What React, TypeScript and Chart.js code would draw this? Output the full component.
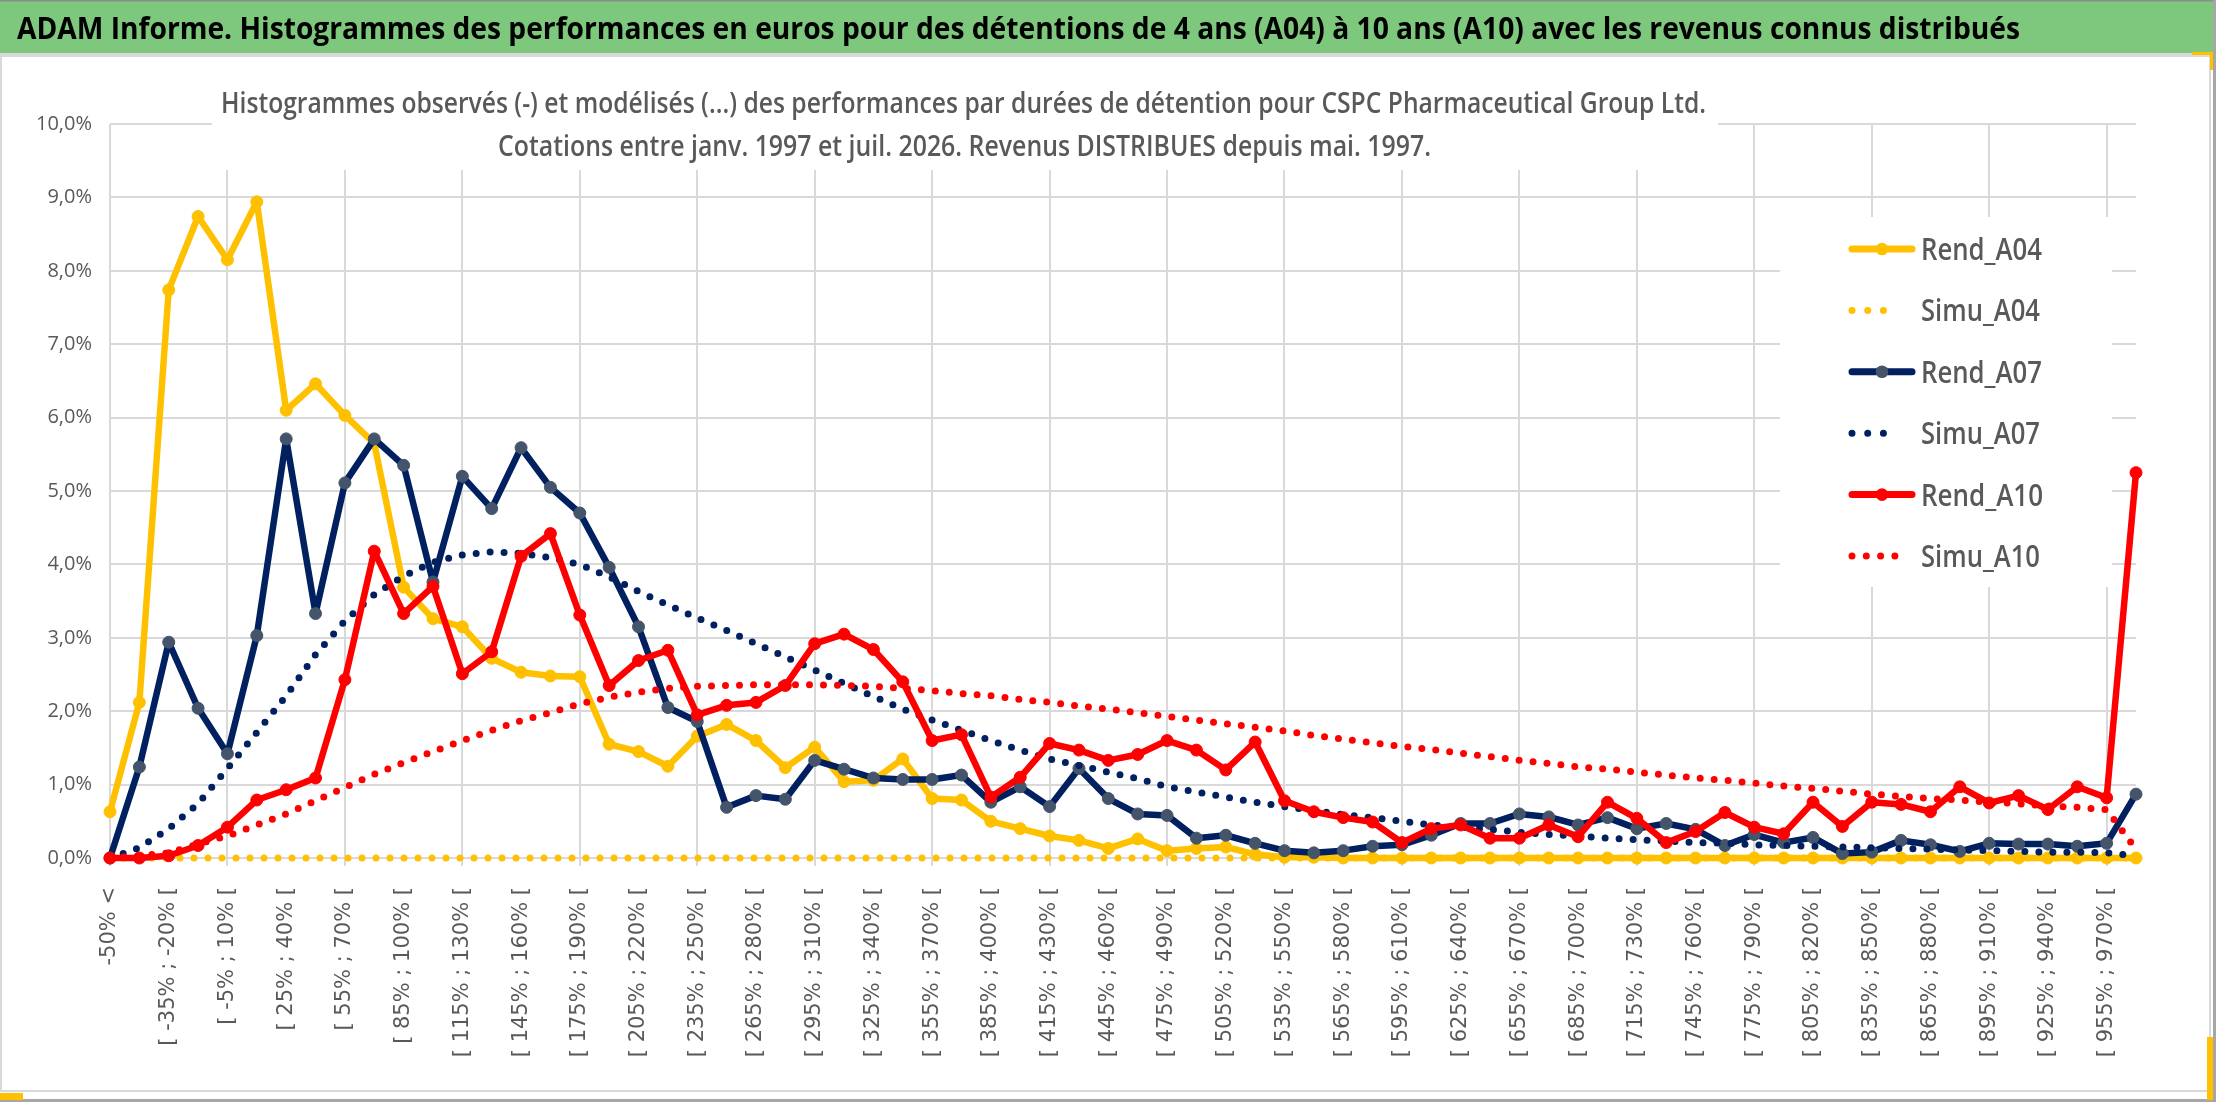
import { useEffect, useRef } from "react"
import { Chart, registerables } from "chart.js"

Chart.register(...registerables)

const categories = [
  "-50% <", "[ -50% ; -35% [", "[ -35% ; -20% [", "[ -20% ; -5% [", "[ -5% ; 10% [",
  "[ 10% ; 25% [", "[ 25% ; 40% [", "[ 40% ; 55% [", "[ 55% ; 70% [", "[ 70% ; 85% [",
  "[ 85% ; 100% [", "[ 100% ; 115% [", "[ 115% ; 130% [", "[ 130% ; 145% [", "[ 145% ; 160% [",
  "[ 160% ; 175% [", "[ 175% ; 190% [", "[ 190% ; 205% [", "[ 205% ; 220% [", "[ 220% ; 235% [",
  "[ 235% ; 250% [", "[ 250% ; 265% [", "[ 265% ; 280% [", "[ 280% ; 295% [", "[ 295% ; 310% [",
  "[ 310% ; 325% [", "[ 325% ; 340% [", "[ 340% ; 355% [", "[ 355% ; 370% [", "[ 370% ; 385% [",
  "[ 385% ; 400% [", "[ 400% ; 415% [", "[ 415% ; 430% [", "[ 430% ; 445% [", "[ 445% ; 460% [",
  "[ 460% ; 475% [", "[ 475% ; 490% [", "[ 490% ; 505% [", "[ 505% ; 520% [", "[ 520% ; 535% [",
  "[ 535% ; 550% [", "[ 550% ; 565% [", "[ 565% ; 580% [", "[ 580% ; 595% [", "[ 595% ; 610% [",
  "[ 610% ; 625% [", "[ 625% ; 640% [", "[ 640% ; 655% [", "[ 655% ; 670% [", "[ 670% ; 685% [",
  "[ 685% ; 700% [", "[ 700% ; 715% [", "[ 715% ; 730% [", "[ 730% ; 745% [", "[ 745% ; 760% [",
  "[ 760% ; 775% [", "[ 775% ; 790% [", "[ 790% ; 805% [", "[ 805% ; 820% [", "[ 820% ; 835% [",
  "[ 835% ; 850% [", "[ 850% ; 865% [", "[ 865% ; 880% [", "[ 880% ; 895% [", "[ 895% ; 910% [",
  "[ 910% ; 925% [", "[ 925% ; 940% [", "[ 940% ; 955% [", "[ 955% ; 970% [", "970% >",
]

// values in %
const rendA04 = [
  0.63, 2.12, 7.74, 8.74, 8.15, 8.94, 6.1, 6.46, 6.03, 5.65,
  3.69, 3.26, 3.15, 2.72, 2.53, 2.48, 2.47, 1.55, 1.45, 1.25,
  1.66, 1.82, 1.6, 1.23, 1.51, 1.04, 1.06, 1.35, 0.81, 0.79,
  0.5, 0.4, 0.3, 0.24, 0.13, 0.26, 0.1, 0.13, 0.15, 0.05,
  0.01, 0.01, 0, 0, 0, 0, 0, 0, 0, 0,
  0, 0, 0, 0, 0, 0, 0, 0, 0, 0,
  0, 0, 0, 0, 0, 0, 0, 0, 0, 0,
]
const simuA04 = [
  0, 0, 0, 0, 0, 0, 0, 0, 0, 0,
  0, 0, 0, 0, 0, 0, 0, 0, 0, 0,
  0, 0, 0, 0, 0, 0, 0, 0, 0, 0,
  0, 0, 0, 0, 0, 0, 0, 0, 0, 0,
  0, 0, 0, 0, 0, 0, 0, 0, 0, 0,
  0, 0, 0, 0, 0, 0, 0, 0, 0, 0,
  0, 0, 0, 0, 0, 0, 0, 0, 0, 0,
]
const rendA07 = [
  0, 1.24, 2.94, 2.04, 1.42, 3.03, 5.71, 3.33, 5.11, 5.71,
  5.35, 3.76, 5.2, 4.76, 5.59, 5.05, 4.7, 3.96, 3.15, 2.05,
  1.86, 0.69, 0.85, 0.8, 1.33, 1.21, 1.09, 1.07, 1.07, 1.13,
  0.76, 0.97, 0.7, 1.22, 0.81, 0.6, 0.58, 0.27, 0.31, 0.2,
  0.1, 0.07, 0.1, 0.16, 0.18, 0.31, 0.47, 0.47, 0.6, 0.56,
  0.45, 0.55, 0.4, 0.47, 0.39, 0.17, 0.32, 0.21, 0.28, 0.06,
  0.08, 0.24, 0.18, 0.09, 0.2, 0.19, 0.19, 0.16, 0.2, 0.87,
]
const simuA07 = [
  0, 0.14, 0.4, 0.74, 1.22, 1.71, 2.21, 2.77, 3.23, 3.59,
  3.84, 4.03, 4.13, 4.17, 4.15, 4.09, 4.0, 3.83, 3.63, 3.45,
  3.27, 3.1, 2.92, 2.74, 2.56, 2.38, 2.2, 2.03, 1.88, 1.74,
  1.6, 1.47, 1.35, 1.26, 1.17, 1.08, 0.97, 0.9, 0.83, 0.76,
  0.7, 0.65, 0.59, 0.55, 0.5, 0.45, 0.42, 0.39, 0.35, 0.32,
  0.3, 0.27, 0.25, 0.23, 0.21, 0.2, 0.18, 0.17, 0.16, 0.15,
  0.14, 0.13, 0.12, 0.11, 0.1, 0.09, 0.08, 0.08, 0.07, 0.03,
]
const rendA10 = [
  0, 0, 0.03, 0.17, 0.42, 0.79, 0.93, 1.09, 2.43, 4.18,
  3.33, 3.7, 2.51, 2.81, 4.11, 4.42, 3.31, 2.35, 2.69, 2.83,
  1.95, 2.08, 2.12, 2.35, 2.92, 3.05, 2.84, 2.4, 1.6, 1.68,
  0.83, 1.1, 1.56, 1.47, 1.33, 1.41, 1.6, 1.47, 1.2, 1.58,
  0.78, 0.63, 0.55, 0.49, 0.21, 0.4, 0.45, 0.27, 0.27, 0.45,
  0.29, 0.76, 0.54, 0.21, 0.36, 0.62, 0.42, 0.33, 0.76, 0.43,
  0.76, 0.73, 0.63, 0.97, 0.75, 0.85, 0.66, 0.97, 0.82, 5.25,
]
const simuA10 = [
  0, 0.03, 0.07, 0.19, 0.3, 0.45, 0.6, 0.78, 0.96, 1.14,
  1.3, 1.45, 1.6, 1.74, 1.87, 1.98, 2.1, 2.19, 2.26, 2.31,
  2.34, 2.35, 2.36, 2.36, 2.36, 2.35, 2.34, 2.31, 2.28, 2.24,
  2.21, 2.16, 2.12, 2.07, 2.03, 1.98, 1.93, 1.88, 1.83, 1.78,
  1.73, 1.67, 1.62, 1.57, 1.52, 1.48, 1.43, 1.38, 1.33, 1.29,
  1.24, 1.21, 1.17, 1.13, 1.09, 1.06, 1.02, 0.98, 0.95, 0.91,
  0.87, 0.84, 0.81, 0.79, 0.76, 0.74, 0.71, 0.69, 0.66, 0.12,
]

const yTickLabels = ["0,0%", "1,0%", "2,0%", "3,0%", "4,0%", "5,0%", "6,0%", "7,0%", "8,0%", "9,0%", "10,0%"]

const YELLOW = "#FFC000"
const NAVY = "#002060"
const NAVY_MARK = "#44546A"
const RED = "#FF0000"
const GRID = "#D9D9D9"
const TEXT = "#595959"

const legendItems = [
  { label: "Rend_A04", color: YELLOW, mark: YELLOW, dotted: false, len: 121 },
  { label: "Simu_A04", color: YELLOW, mark: YELLOW, dotted: true, len: 119 },
  { label: "Rend_A07", color: NAVY, mark: NAVY_MARK, dotted: false, len: 121 },
  { label: "Simu_A07", color: NAVY, mark: NAVY, dotted: true, len: 119 },
  { label: "Rend_A10", color: RED, mark: RED, dotted: false, len: 122 },
  { label: "Simu_A10", color: RED, mark: RED, dotted: true, len: 119 },
]

function solid(label: string, data: number[], color: string, mark: string, order: number) {
  return {
    label,
    data,
    borderColor: color,
    backgroundColor: mark,
    borderWidth: 6.5,
    borderJoinStyle: "round" as const,
    borderCapStyle: "round" as const,
    pointRadius: 6,
    pointBackgroundColor: mark,
    pointBorderColor: mark,
    pointBorderWidth: 1,
    tension: 0,
    clip: false as const,
    order,
  }
}

function dotted(label: string, data: number[], color: string, order: number) {
  return {
    label,
    data,
    borderColor: color,
    backgroundColor: color,
    borderWidth: 7,
    borderDash: [0, 14],
    borderCapStyle: "round" as const,
    borderJoinStyle: "round" as const,
    pointRadius: 0,
    tension: 0,
    clip: false as const,
    order,
  }
}

export default function App() {
  const chartRef = useRef<HTMLCanvasElement>(null)
  const chartInstance = useRef<Chart | null>(null)

  useEffect(() => {
    if (!chartRef.current) return
    const ctx = chartRef.current.getContext("2d")
    if (!ctx) return
    if (chartInstance.current) chartInstance.current.destroy()

    chartInstance.current = new Chart(ctx, {
      type: "line",
      data: {
        labels: categories,
        datasets: [
          solid("Rend_A04", rendA04, YELLOW, YELLOW, 5),
          dotted("Simu_A04", simuA04, YELLOW, 4),
          solid("Rend_A07", rendA07, NAVY, NAVY_MARK, 3),
          dotted("Simu_A07", simuA07, NAVY, 2),
          solid("Rend_A10", rendA10, RED, RED, 1),
          dotted("Simu_A10", simuA10, RED, 0),
        ],
      },
      options: {
        animation: false,
        responsive: true,
        maintainAspectRatio: false,
        events: [],
        layout: { padding: { left: 10, right: 80, top: 124, bottom: 0 } },
        scales: {
          x: {
            offset: false,
            afterFit: (scale) => {
              scale.height = 244
            },
            grid: {
              color: (c) => (c.index % 4 === 0 ? GRID : "rgba(0,0,0,0)"),
              lineWidth: 2,
              tickLength: 8,
            },
            border: { display: false },
            ticks: {
              autoSkip: false,
              minRotation: 90,
              maxRotation: 90,
              padding: 21,
              color: TEXT,
              font: { family: "'DejaVu Sans', sans-serif", size: 21 },
              callback: (_v, i) => (i % 2 === 0 ? categories[i] : ""),
            },
          },
          y: {
            min: 0,
            max: 10,
            afterFit: (scale) => {
              scale.width = 100
            },
            grid: { color: GRID, lineWidth: 2, drawTicks: false },
            border: { display: false },
            ticks: {
              stepSize: 1,
              padding: 18,
              color: TEXT,
              font: { family: "'Open Sans', sans-serif", size: 20 },
              callback: (v) => yTickLabels[Math.round(Number(v))],
            },
          },
        },
        plugins: {
          legend: { display: false },
          tooltip: { enabled: false },
        },
      },
    })

    return () => {
      if (chartInstance.current) {
        chartInstance.current.destroy()
        chartInstance.current = null
      }
    }
  }, [])

  const legendTop = 249
  const legendStep = 61.4

  return (
    <div
      style={{
        position: "fixed",
        left: 0,
        top: 0,
        width: 2216,
        height: 1102,
        background: "#fff",
        overflow: "hidden",
      }}
    >
      <div style={{ position: "absolute", left: 0, top: 0, width: 2216, height: 1102 }}>
        <canvas ref={chartRef}></canvas>
      </div>
      <svg
        width={2216}
        height={1102}
        style={{ position: "absolute", left: 0, top: 0, pointerEvents: "none" }}
        fontFamily="'Open Sans', sans-serif"
      >
        {/* title bar */}
        <rect x={0} y={0} width={2216} height={53} fill="#7DC87D" />
        <rect x={0} y={0} width={2216} height={1.5} fill="#8C8C8C" />
        <rect x={0} y={53} width={2216} height={4} fill="#D9D9D9" />
        <text x={17} y={39} fontSize={30} fontWeight="bold" fill="#000" textLength={2003} lengthAdjust="spacingAndGlyphs">
          ADAM Informe. Histogrammes des performances en euros pour des détentions de 4 ans (A04) à 10 ans (A10) avec les revenus connus distribués
        </text>

        {/* frame */}
        <rect x={0} y={57} width={2} height={1035} fill={GRID} />
        <rect x={2209} y={57} width={2} height={1035} fill={GRID} />
        <rect x={0} y={1090} width={2211} height={2} fill={GRID} />
        <rect x={0} y={1099} width={2216} height={3} fill="#A6A6A6" />
        <rect x={2213} y={0} width={3} height={1102} fill="#A6A6A6" />
        <rect x={0} y={1093} width={23} height={7} fill={YELLOW} />
        <rect x={2192} y={52} width={21} height={3} fill={YELLOW} />
        <rect x={2210} y={52} width={3} height={18} fill={YELLOW} />
        <rect x={2207} y={1037} width={6} height={63} fill={YELLOW} />

        {/* chart title box */}
        <rect x={212} y={57} width={1506} height={113} fill="#fff" />
        <text x={221} y={113} fontSize={28} fontWeight={600} fill={TEXT} textLength={1485} lengthAdjust="spacingAndGlyphs">
          Histogrammes observés (-) et modélisés (...) des performances par durées de détention pour CSPC Pharmaceutical Group Ltd.
        </text>
        <text x={498} y={156} fontSize={28} fontWeight={600} fill={TEXT} textLength={933} lengthAdjust="spacingAndGlyphs">
          Cotations entre janv. 1997 et juil. 2026. Revenus DISTRIBUES depuis mai. 1997.
        </text>

        {/* legend */}
        <rect x={1780} y={217} width={332} height={370} fill="#fff" />
        {legendItems.map((it, i) => {
          const y = legendTop + i * legendStep
          return (
            <g key={it.label}>
              {it.dotted ? (
                <line
                  x1={1852}
                  x2={it.label === "Simu_A10" ? 1909 : 1899}
                  y1={y}
                  y2={y}
                  stroke={it.color}
                  strokeWidth={7}
                  strokeLinecap="round"
                  strokeDasharray={it.label === "Simu_A10" ? "0 14.3" : "0 15.7"}
                />
              ) : (
                <>
                  <line x1={1852} x2={1912} y1={y} y2={y} stroke={it.color} strokeWidth={7} strokeLinecap="round" />
                  <circle cx={1882} cy={y} r={6.3} fill={it.mark} />
                </>
              )}
              <text x={1921} y={y + 11} fontSize={30} fontWeight={600} fill={TEXT} textLength={it.len} lengthAdjust="spacingAndGlyphs">
                {it.label}
              </text>
            </g>
          )
        })}
      </svg>
    </div>
  )
}
